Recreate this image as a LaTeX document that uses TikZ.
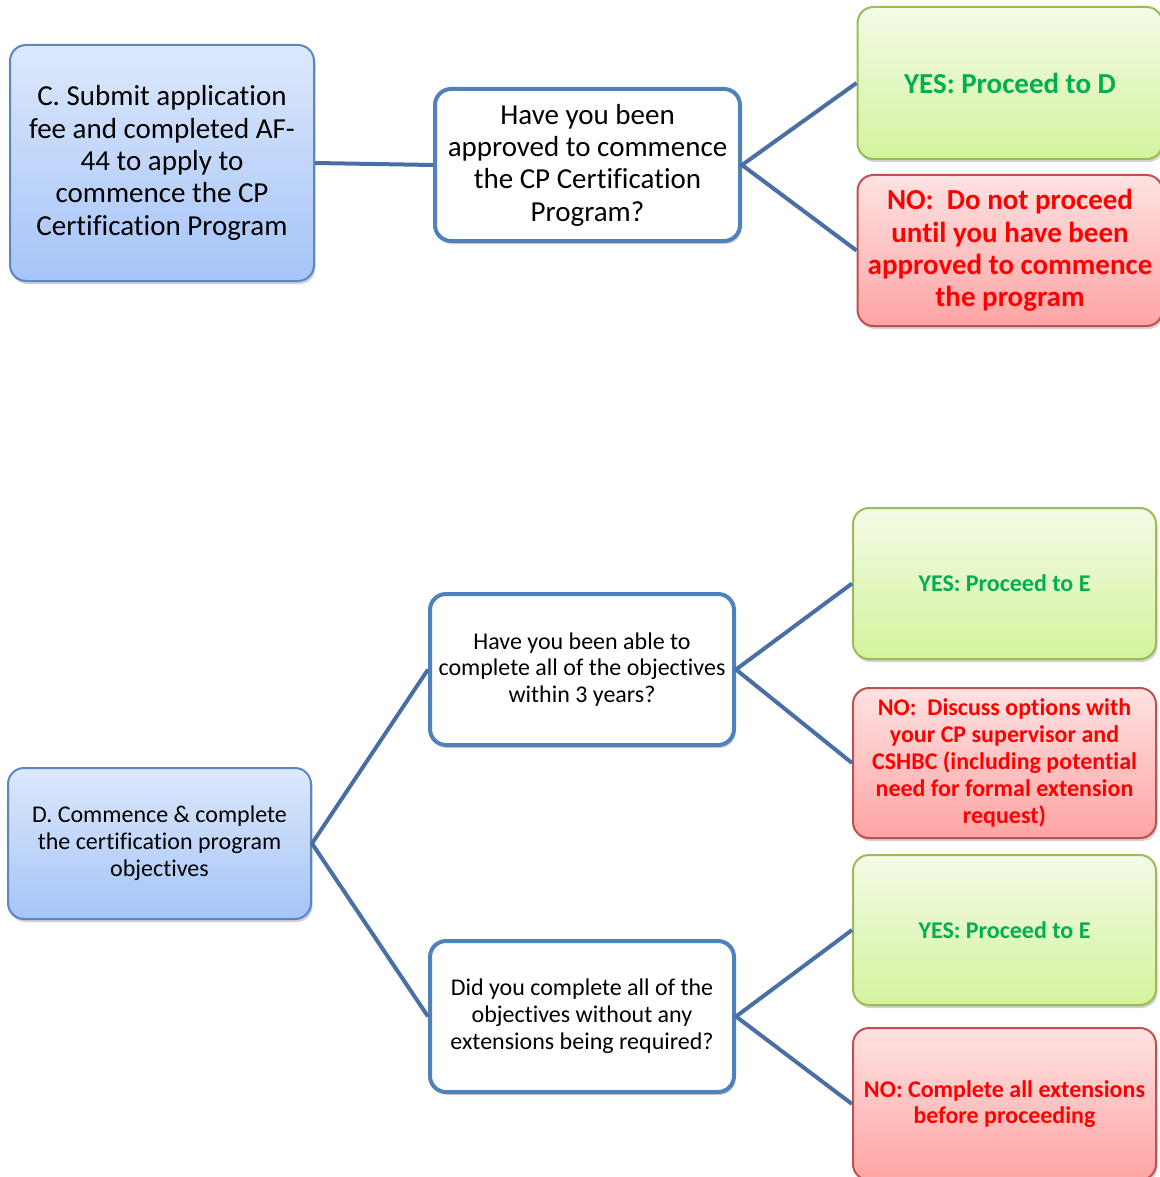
\documentclass[tikz,border=0pt]{standalone}
\usepackage{fontspec}
\setmainfont{Carlito}[Ligatures=NoCommon]
\usepackage{xcolor}
\definecolor{stepedge}{HTML}{5A87C0}
\definecolor{steptop}{HTML}{DDE8FB}
\definecolor{stepbot}{HTML}{A5C4F8}
\definecolor{askedge}{HTML}{4F81BD}
\definecolor{yesedge}{HTML}{9BBB59}
\definecolor{yestop}{HTML}{F3FBE6}
\definecolor{yesbot}{HTML}{D4F39C}
\definecolor{yestext}{HTML}{00B050}
\definecolor{noedge}{HTML}{C0504D}
\definecolor{notop}{HTML}{FFE2E2}
\definecolor{nobot}{HTML}{FFA4A4}
\definecolor{link}{HTML}{4A6FA5}
\usetikzlibrary{shadows}

\begin{document}
\begin{tikzpicture}[x=1pt,y=-1pt,
  base/.style={rounded corners=16pt,align=center,inner sep=4pt,
    drop shadow={shadow xshift=1.5pt,shadow yshift=-3pt,opacity=0.3,fill=black!60}},
  big/.style={font=\fontsize{29}{32.3}\selectfont},
  small/.style={font=\fontsize{24}{26.8}\selectfont},
  stepbox/.style={base,draw=stepedge,line width=2pt,top color=steptop,bottom color=stepbot},
  askbox/.style={base,draw=askedge,line width=4pt,fill=white},
  yesbox/.style={base,draw=yesedge,line width=2pt,top color=yestop,bottom color=yesbot,text=yestext},
  nobox/.style={base,draw=noedge,line width=2pt,top color=notop,bottom color=nobot,text=red},
  conn/.style={draw=link,line width=4pt}]
\useasboundingbox (0,0) rectangle (1159,1177);
% part C
\node[stepbox,big,minimum width=304pt,minimum height=236pt] (c) at (162,163)
  {C. Submit application\\fee and completed AF-\\44 to apply to\\commence the CP\\Certification Program};
\node[askbox,big,minimum width=305pt,minimum height=152pt] (q1) at (587.5,165)
  {Have you been\\approved to commence\\the CP Certification\\Program?};
\node[yesbox,big,minimum width=305pt,minimum height=152pt] (y1) at (1010,83)
  {\bfseries YES: Proceed to D};
\node[nobox,big,minimum width=305pt,minimum height=151pt] (n1) at (1010,250.5)
  {\bfseries NO:\ \ Do not proceed\\\bfseries until you have been\\\bfseries approved to commence\\\bfseries the program};
% part D
\node[stepbox,small,minimum width=303pt,minimum height=151pt] (d) at (159.5,843.5)
  {D. Commence \& complete\\the certification program\\objectives};
\node[askbox,small,minimum width=304pt,minimum height=151pt] (q2) at (582,669.5)
  {Have you been able to\\complete all of the objectives\\within 3 years?};
\node[askbox,small,minimum width=304pt,minimum height=151pt] (q3) at (582,1016.5)
  {Did you complete all of the\\objectives without any\\extensions being required?};
\node[yesbox,small,minimum width=303pt,minimum height=151pt] (y2) at (1004.5,583.5)
  {\bfseries YES: Proceed to E};
\node[nobox,small,minimum width=303pt,minimum height=150pt] (n2) at (1004.5,763)
  {\bfseries NO:\ \ Discuss options with\\\bfseries your CP supervisor and\\\bfseries CSHBC (including potential\\\bfseries need for formal extension\\\bfseries request)};
\node[yesbox,small,minimum width=303pt,minimum height=150pt] (y3) at (1004.5,930)
  {\bfseries YES: Proceed to E};
\node[nobox,small,minimum width=303pt,minimum height=152pt] (n3) at (1004.5,1104)
  {\bfseries NO: Complete all extensions\\\bfseries before proceeding};
\draw[conn] (c.east) -- (q1.west);
\draw[conn] (y1.west) -- (q1.east) -- (n1.west);
\draw[conn] (q2.west) -- (d.east) -- (q3.west);
\draw[conn] (y2.west) -- (q2.east) -- (n2.west);
\draw[conn] (y3.west) -- (q3.east) -- (n3.west);
\end{tikzpicture}
\end{document}
